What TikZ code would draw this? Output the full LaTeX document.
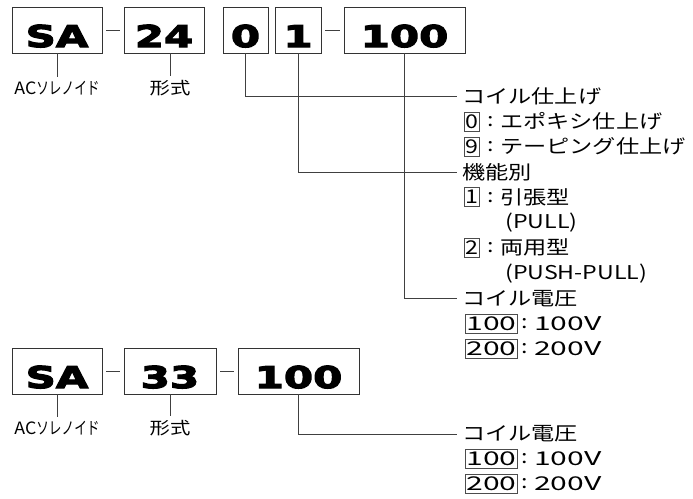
\documentclass[tikz,border=0pt]{standalone}
\usepackage{fontspec}
\newfontfamily\boxfont[FakeStretch=1.4,FakeBold=4]{DejaVu Sans}
\newfontfamily\jp[FakeStretch=1.22]{Noto Sans CJK JP}
\newfontfamily\jpl[FakeStretch=1.2]{Noto Sans CJK JP}
\newcommand{\wdig}[1]{\scalebox{1.3}[1]{#1}}
\usetikzlibrary{calc}
\begin{document}
\begin{tikzpicture}[x=1pt,y=-1pt,
  partbox/.style={draw=black!80, line width=0.9pt, inner sep=0pt, minimum height=46pt,
    text height=34pt, text depth=0pt, font=\boxfont\bfseries\fontsize{30}{30}\selectfont},
  conn/.style={draw=black!75, line width=0.8pt},
  txt/.style={inner sep=0pt, anchor=west, font=\jp\fontsize{19}{19}\selectfont},
  colon/.style={inner sep=0pt, font=\jp\fontsize{19}{19}\selectfont},
  codebox/.style={draw=black!70, line width=0.6pt, inner xsep=1pt, inner ysep=0pt,
    minimum height=19pt, anchor=west, font=\jp\fontsize{19}{19}\selectfont},
  sublbl/.style={inner sep=0pt, font=\jpl\fontsize{17}{17}\selectfont}]
\useasboundingbox (0,0) rectangle (693,498);

% ---------- top row ----------
\node[partbox, minimum width=90pt]  (sa)   at (57,30)    {SA};
\node[partbox, minimum width=80pt]  (b24)  at (164,30)   {24};
\node[partbox, minimum width=45pt]  (b0)   at (245.5,30) {0};
\node[partbox, minimum width=46pt]  (b1)   at (298,30)   {1};
\node[partbox, minimum width=121pt] (b100) at (404.5,30) {100};

\draw[conn, shorten <=4pt, shorten >=4pt] (sa) -- (b24);
\draw[conn, shorten <=4pt, shorten >=4pt] (b1) -- (b100);

\node[sublbl] (lsa) at (57,88) {\scalebox{0.87}[1]{AC}\scalebox{0.62}[1]{ソレノイド}};
\node[sublbl] (l24) at (170,88) {形式};
\draw[conn, shorten >=4pt] (sa.south) -- (lsa.north);
\draw[conn, shorten >=4pt] (b24.south -| l24.north) -- (l24.north);

% right side texts
\node[txt] (t0) at (462,96) {コイル仕上げ};
\node[codebox] (c0) at (464,121.3) {0};
\node[colon] (k0) at (491,121.3) {:};
\node[txt] (d0) at (500,121.3) {エポキシ仕上げ};
\node[codebox] (c9) at (464,146.6) {9};
\node[colon] (k9) at (491,146.6) {:};
\node[txt] (d9) at (500,146.6) {テーピング仕上げ};

\node[txt] (t1) at (462,171.9) {機能別};
\node[codebox] (c1) at (464,197.2) {1};
\node[colon] (k1) at (491,197.2) {:};
\node[txt] (d1) at (500,197.2) {引張型};
\node[txt] (e1) at (505,222.5) {(PULL)};
\node[codebox] (c2) at (464,247.8) {2};
\node[colon] (k2) at (491,247.8) {:};
\node[txt] (d2) at (500,247.8) {両用型};
\node[txt] (e2) at (505,273.1) {(PUSH-PULL)};

\node[txt] (t2) at (462,298.4) {コイル電圧};
\node[codebox, minimum width=52pt] (c100) at (465,323.7) {\wdig{100}};
\node[colon] (k100) at (525,323.7) {:};
\node[txt] (d100) at (534,323.7) {\wdig{100V}};
\node[codebox, minimum width=52pt] (c200) at (465,349) {\wdig{200}};
\node[colon] (k200) at (525,349) {:};
\node[txt] (d200) at (534,349) {\wdig{200V}};

\draw[conn, shorten >=5pt] (b0.south) |- (t0.west);
\draw[conn, shorten >=5pt] (b1.south) |- (t1.west);
\draw[conn, shorten >=5pt] (b100.south) |- (t2.west);

% ---------- bottom row ----------
\node[partbox, minimum width=90pt]  (sb)    at (57,371)    {SA};
\node[partbox, minimum width=92pt]  (b33)   at (170,371)   {33};
\node[partbox, minimum width=121pt] (bb100) at (298.5,371) {100};

\draw[conn, shorten <=4pt, shorten >=4pt] (sb) -- (b33);
\draw[conn, shorten <=4pt, shorten >=4pt] (b33) -- (bb100);

\node[sublbl] (lsb) at (57,428) {\scalebox{0.87}[1]{AC}\scalebox{0.62}[1]{ソレノイド}};
\node[sublbl] (l33) at (170,428) {形式};
\draw[conn, shorten >=4pt] (sb.south) -- (lsb.north);
\draw[conn, shorten >=4pt] (b33.south -| l33.north) -- (l33.north);

\node[txt] (u0) at (462,434) {コイル電圧};
\node[codebox, minimum width=52pt] (u100) at (465,459) {\wdig{100}};
\node[colon] (uk100) at (525,459) {:};
\node[txt] (ud100) at (534,459) {\wdig{100V}};
\node[codebox, minimum width=52pt] (u200) at (465,484) {\wdig{200}};
\node[colon] (uk200) at (525,484) {:};
\node[txt] (ud200) at (534,484) {\wdig{200V}};

\draw[conn, shorten >=5pt] (bb100.south) |- (u0.west);
\end{tikzpicture}
\end{document}
